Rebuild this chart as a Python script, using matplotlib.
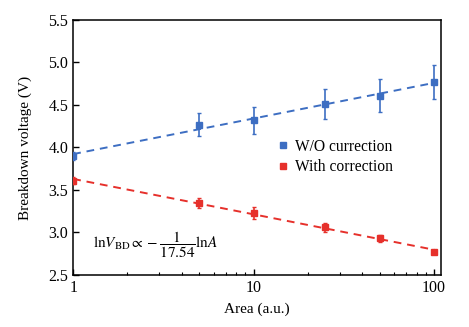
import numpy as np
import matplotlib
matplotlib.use("Agg")
import matplotlib.pyplot as plt

area = [1, 5, 10, 25, 50, 100]
v_wo = [3.90, 4.27, 4.32, 4.51, 4.61, 4.77]
err_wo = [0.05, 0.14, 0.16, 0.18, 0.19, 0.20]
v_with = [3.61, 3.35, 3.23, 3.06, 2.93, 2.77]
err_with = [0.04, 0.06, 0.07, 0.05, 0.04, 0.02]

blue = "#3d6ec2"
red = "#e6302b"

plt.rcParams["font.family"] = ["Liberation Serif", "DejaVu Serif"]
plt.rcParams["mathtext.fontset"] = "stix"

fig = plt.figure(figsize=(4.69, 3.27), dpi=100)
ax = fig.add_axes([0.156, 0.159, 0.784, 0.780])

# fitted dashed lines (linear in log x)
xs = np.logspace(0, 2, 50)
for v, c in ((v_wo, blue), (v_with, red)):
    p = np.polyfit(np.log10(area), v, 1)
    ax.plot(xs, np.polyval(p, np.log10(xs)), ls=(0, (4, 3)), color=c, lw=1.4, zorder=2)

ax.errorbar(area, v_wo, yerr=err_wo, fmt="s", color=blue, ms=4.5, capsize=1.5,
            elinewidth=1.2, label="W/O currection", zorder=3)
ax.errorbar(area, v_with, yerr=err_with, fmt="s", color=red, ms=4.5, capsize=1.5,
            elinewidth=1.2, label="With correction", zorder=3)

ax.set_xscale("log")
ax.set_xlim(1, 109)
ax.set_ylim(2.5, 5.5)
ax.set_yticks([2.5, 3.0, 3.5, 4.0, 4.5, 5.0, 5.5])
ax.set_xticks([1, 10, 100])
ax.set_xticklabels(["1", "10", "100"])
ax.tick_params(which="both", direction="in", top=False, right=False, labelsize=11.5)
ax.tick_params(which="major", length=4, width=1)
ax.tick_params(which="minor", length=2.5, width=0.8)
for s in ax.spines.values():
    s.set_linewidth(1.1)

ax.set_xlabel("Area (a.u.)", fontsize=11, labelpad=5)
ax.set_ylabel("Breakdown voltage (V)", fontsize=11, labelpad=12)

h, l = ax.get_legend_handles_labels()
h = [x[0] for x in h]
ax.legend(h, l, loc="upper left", bbox_to_anchor=(0.52, 0.59), frameon=False,
          fontsize=11.2, handlelength=0.6, handletextpad=0.5, labelspacing=0.3,
          markerscale=0.9)

ax.text(0.055, 0.12, r"$\mathrm{ln}V_{\mathrm{BD}}\propto-\dfrac{1}{17.54}\mathrm{ln}A$",
        transform=ax.transAxes, fontsize=11, va="center", ha="left")

fig.savefig("out.png", dpi=100)
